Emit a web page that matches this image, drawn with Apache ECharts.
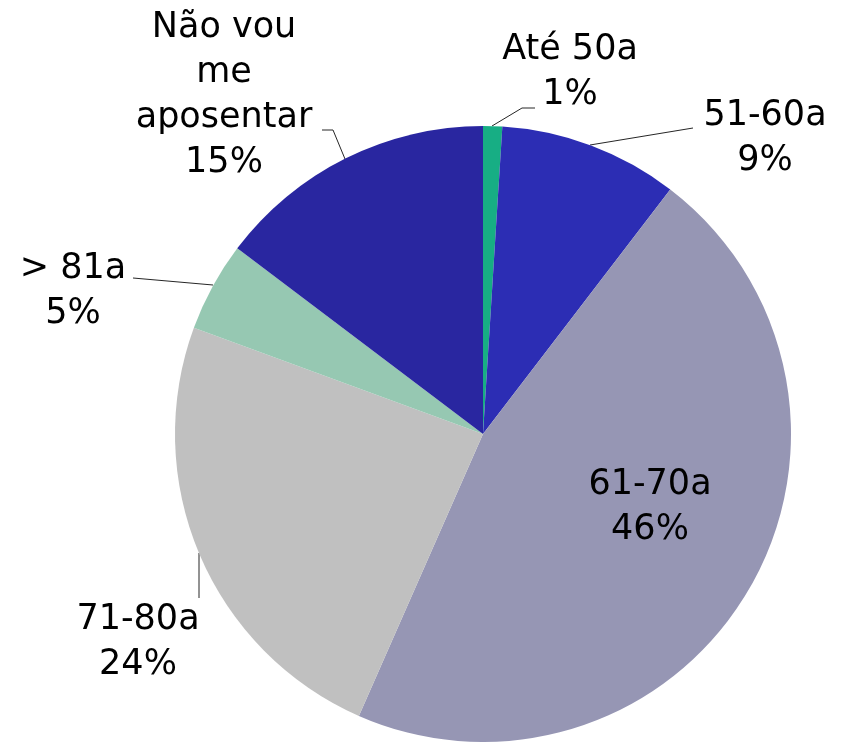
<!DOCTYPE html>
<html>
<head>
<meta charset="utf-8">
<script src="https://cdn.jsdelivr.net/npm/echarts@6/dist/echarts.min.js"></script>
<style>
html,body{margin:0;padding:0;background:#fff;}
#chart{width:845px;height:742px;}
</style>
</head>
<body>
<div id="chart"></div>
<script>
// Data
const categories = ['Até 50a', '51-60a', '61-70a', '71-80a', '> 81a', 'Não vou\nme\naposentar'];
const values = [1.0, 9.4, 46.2, 24.0, 4.7, 14.7];

// Style
const colors = ['#17AE84', '#2C2DB4', '#9696B4', '#C0C0C0', '#96C8B2', '#2926A0'];
// label placement (text block centre) and leader line points, in pixels
const labelPlacement = [
  { x: 570, y: 72, line: [[492, 126], [522, 108], [535, 108]] },
  { x: 765, y: 138, line: [[590, 145], [693, 128]] },
  { x: 650, y: 507, line: null },
  { x: 138, y: 642, line: [[199, 553], [199, 598]] },
  { x: 73, y: 291, line: [[213, 285], [133, 278]] },
  { x: 224, y: 95, line: [[345, 159], [333, 130], [322, 130]] }
];

const chart = echarts.init(document.getElementById('chart'), null, { renderer: 'canvas' });
chart.setOption({
  animation: false,
  backgroundColor: '#ffffff',
  series: [{
    type: 'pie',
    center: [483, 434],
    radius: 308,
    startAngle: 90,
    clockwise: true,
    avoidLabelOverlap: false,
    data: categories.map((c, i) => ({
      name: c,
      value: values[i],
      itemStyle: { color: colors[i] },
      labelLine: { show: labelPlacement[i].line !== null }
    })),
    itemStyle: { borderWidth: 0 },
    label: {
      show: true,
      position: 'outside',
      formatter: function (p) { return p.name + '\n' + Math.round(p.value) + '%'; },
      fontFamily: 'DejaVu Sans',
      fontSize: 35,
      lineHeight: 45,
      color: '#000000',
      align: 'center'
    },
    labelLine: {
      show: true,
      lineStyle: { color: '#262626', width: 1 }
    },
    labelLayout: function (params) {
      const p = labelPlacement[params.dataIndex];
      const o = { x: p.x, y: p.y, align: 'center', verticalAlign: 'middle' };
      if (p.line) o.labelLinePoints = p.line;
      return o;
    }
  }]
});
</script>
</body>
</html>
